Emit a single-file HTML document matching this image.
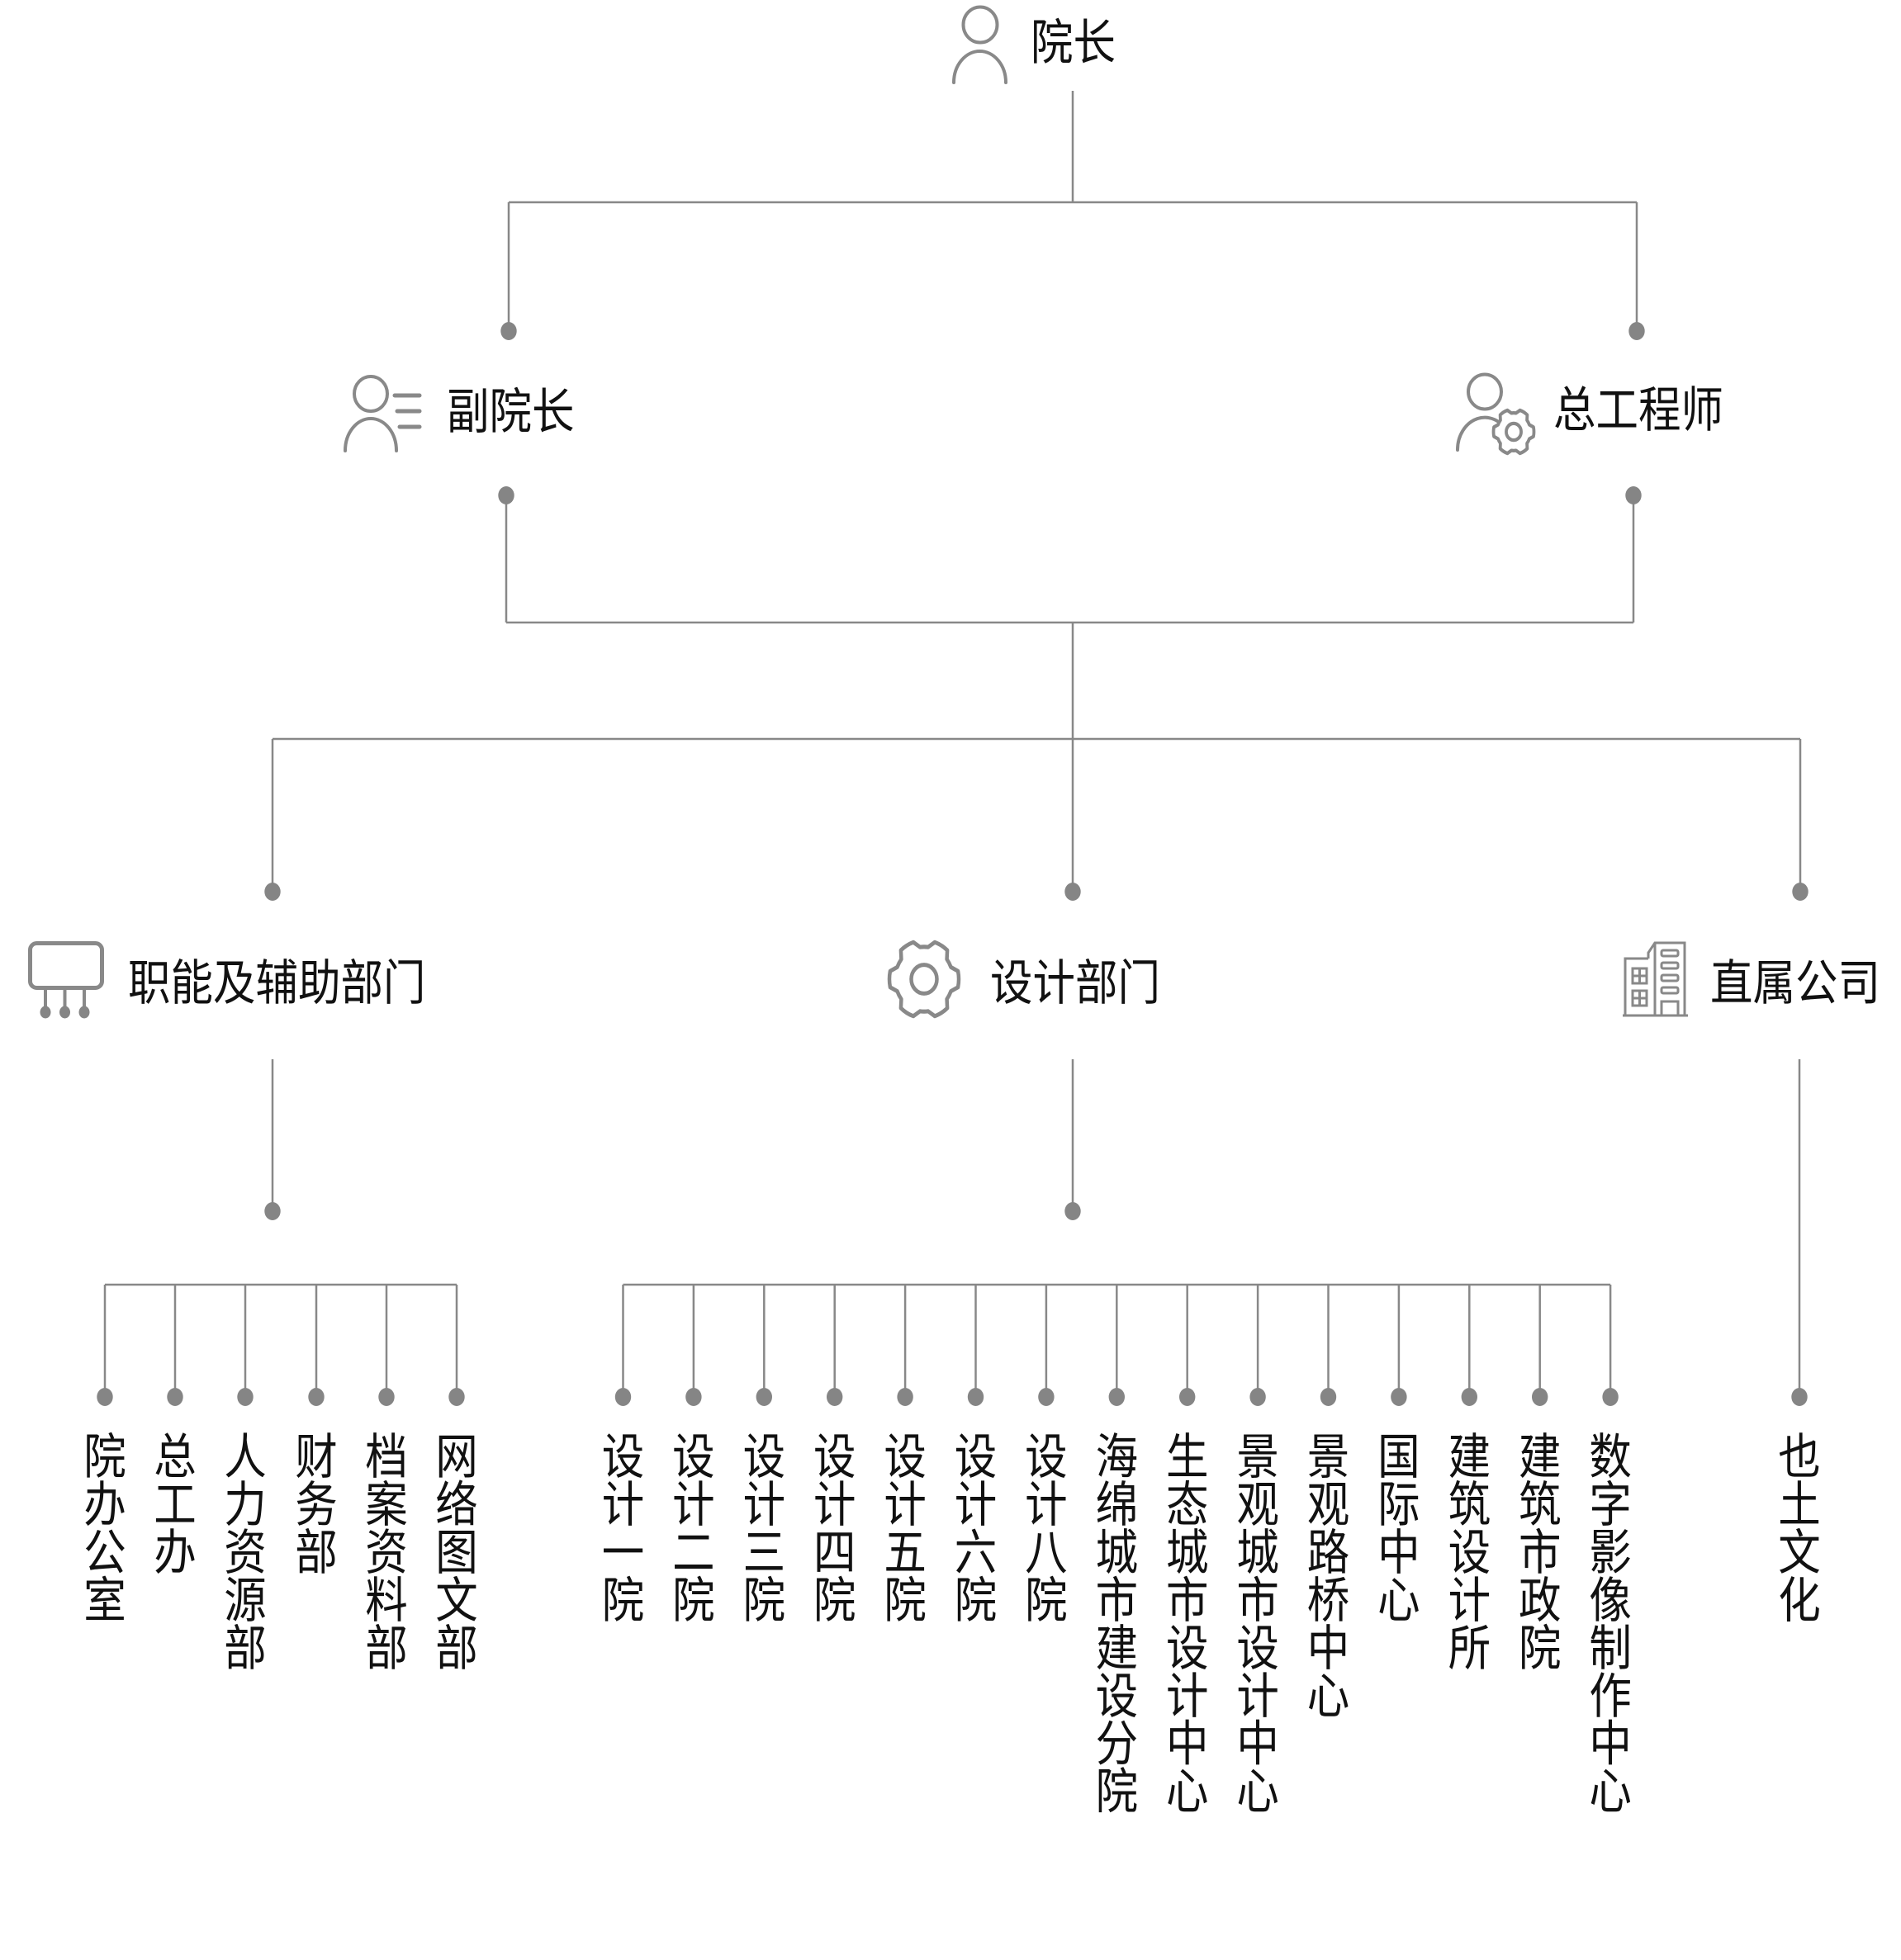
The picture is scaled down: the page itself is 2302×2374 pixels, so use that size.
<!DOCTYPE html>
<html>
<head>
<meta charset="utf-8">
<style>
  html,body{margin:0;padding:0;background:#fff;}
  svg{display:block;}
  text{font-family:"Liberation Sans","Noto Sans CJK SC","WenQuanYi Zen Hei",sans-serif;fill:#111;}
</style>
</head>
<body>
<svg width="2302" height="2374" viewBox="0 0 2302 2374" xmlns="http://www.w3.org/2000/svg">
  <defs>
    <path id="gear" d="M41.08,-8.73 A42,42 0 0 1 41.08,8.73 L32.45,13.11 A35,35 0 0 1 27.58,21.55 L28.10,31.21 A42,42 0 0 1 12.98,39.95 L4.87,34.66 A35,35 0 0 1 -4.87,34.66 L-12.98,39.95 A42,42 0 0 1 -28.10,31.21 L-27.58,21.55 A35,35 0 0 1 -32.45,13.11 L-41.08,8.73 A42,42 0 0 1 -41.08,-8.73 L-32.45,-13.11 A35,35 0 0 1 -27.58,-21.55 L-28.10,-31.21 A42,42 0 0 1 -12.98,-39.95 L-4.87,-34.66 A35,35 0 0 1 4.87,-34.66 L12.98,-39.95 A42,42 0 0 1 28.10,-31.21 L27.58,-21.55 A35,35 0 0 1 32.45,-13.11 Z"/>
  </defs>

  <!-- connectors -->
  <g stroke="#888" stroke-width="2.5" fill="none">
    <line x1="1299" y1="110" x2="1299" y2="245"/>
    <line x1="616" y1="245" x2="1982" y2="245"/>
    <line x1="616" y1="245" x2="616" y2="401"/>
    <line x1="1982" y1="245" x2="1982" y2="401"/>
    <line x1="613" y1="600" x2="613" y2="754"/>
    <line x1="1978" y1="600" x2="1978" y2="754"/>
    <line x1="613" y1="754" x2="1978" y2="754"/>
    <line x1="1299" y1="754" x2="1299" y2="1080"/>
    <line x1="330" y1="895" x2="2180" y2="895"/>
    <line x1="330" y1="895" x2="330" y2="1080"/>
    <line x1="2180" y1="895" x2="2180" y2="1080"/>
    <line x1="330" y1="1283" x2="330" y2="1467"/>
    <line x1="1299" y1="1283" x2="1299" y2="1467"/>
    <line x1="2179" y1="1283" x2="2179" y2="1692"/>
    <!-- functional bar -->
    <line x1="127" y1="1556" x2="553" y2="1556"/>
    <line x1="127" y1="1556" x2="127" y2="1692"/>
    <line x1="212" y1="1556" x2="212" y2="1692"/>
    <line x1="297" y1="1556" x2="297" y2="1692"/>
    <line x1="383" y1="1556" x2="383" y2="1692"/>
    <line x1="468" y1="1556" x2="468" y2="1692"/>
    <line x1="553" y1="1556" x2="553" y2="1692"/>
    <!-- design bar -->
    <line x1="754.5" y1="1556" x2="1950.1" y2="1556"/>
    <line x1="754.5" y1="1556" x2="754.5" y2="1692"/>
    <line x1="839.9" y1="1556" x2="839.9" y2="1692"/>
    <line x1="925.3" y1="1556" x2="925.3" y2="1692"/>
    <line x1="1010.7" y1="1556" x2="1010.7" y2="1692"/>
    <line x1="1096.1" y1="1556" x2="1096.1" y2="1692"/>
    <line x1="1181.5" y1="1556" x2="1181.5" y2="1692"/>
    <line x1="1266.9" y1="1556" x2="1266.9" y2="1692"/>
    <line x1="1352.3" y1="1556" x2="1352.3" y2="1692"/>
    <line x1="1437.7" y1="1556" x2="1437.7" y2="1692"/>
    <line x1="1523.1" y1="1556" x2="1523.1" y2="1692"/>
    <line x1="1608.5" y1="1556" x2="1608.5" y2="1692"/>
    <line x1="1693.9" y1="1556" x2="1693.9" y2="1692"/>
    <line x1="1779.3" y1="1556" x2="1779.3" y2="1692"/>
    <line x1="1864.7" y1="1556" x2="1864.7" y2="1692"/>
    <line x1="1950.1" y1="1556" x2="1950.1" y2="1692"/>
  </g>

  <!-- dots -->
  <g fill="#858585">
    <ellipse cx="616" cy="401" rx="9.7" ry="11"/>
    <ellipse cx="1982" cy="401" rx="9.7" ry="11"/>
    <ellipse cx="613" cy="600" rx="9.7" ry="11"/>
    <ellipse cx="1978" cy="600" rx="9.7" ry="11"/>
    <ellipse cx="330" cy="1080" rx="9.7" ry="11"/>
    <ellipse cx="1299" cy="1080" rx="9.7" ry="11"/>
    <ellipse cx="2180" cy="1080" rx="9.7" ry="11"/>
    <ellipse cx="330" cy="1467" rx="9.7" ry="11"/>
    <ellipse cx="1299" cy="1467" rx="9.7" ry="11"/>
    <ellipse cx="2179" cy="1692" rx="9.7" ry="11"/>
    <ellipse cx="127" cy="1692" rx="9.7" ry="11"/>
    <ellipse cx="212" cy="1692" rx="9.7" ry="11"/>
    <ellipse cx="297" cy="1692" rx="9.7" ry="11"/>
    <ellipse cx="383" cy="1692" rx="9.7" ry="11"/>
    <ellipse cx="468" cy="1692" rx="9.7" ry="11"/>
    <ellipse cx="553" cy="1692" rx="9.7" ry="11"/>
    <ellipse cx="754.5" cy="1692" rx="9.7" ry="11"/>
    <ellipse cx="839.9" cy="1692" rx="9.7" ry="11"/>
    <ellipse cx="925.3" cy="1692" rx="9.7" ry="11"/>
    <ellipse cx="1010.7" cy="1692" rx="9.7" ry="11"/>
    <ellipse cx="1096.1" cy="1692" rx="9.7" ry="11"/>
    <ellipse cx="1181.5" cy="1692" rx="9.7" ry="11"/>
    <ellipse cx="1266.9" cy="1692" rx="9.7" ry="11"/>
    <ellipse cx="1352.3" cy="1692" rx="9.7" ry="11"/>
    <ellipse cx="1437.7" cy="1692" rx="9.7" ry="11"/>
    <ellipse cx="1523.1" cy="1692" rx="9.7" ry="11"/>
    <ellipse cx="1608.5" cy="1692" rx="9.7" ry="11"/>
    <ellipse cx="1693.9" cy="1692" rx="9.7" ry="11"/>
    <ellipse cx="1779.3" cy="1692" rx="9.7" ry="11"/>
    <ellipse cx="1864.7" cy="1692" rx="9.7" ry="11"/>
    <ellipse cx="1950.1" cy="1692" rx="9.7" ry="11"/>
  </g>

  <!-- icons -->
  <g stroke="#898989" fill="none" stroke-linecap="round" stroke-linejoin="round">
    <!-- 院长 person -->
    <ellipse cx="1187" cy="30" rx="20.5" ry="21.5" stroke-width="4"/>
    <path d="M1155,100 A31.5,38 0 0 1 1218,100" stroke-width="4"/>

    <!-- 副院长 person with lines -->
    <ellipse cx="449" cy="477" rx="20" ry="21" stroke-width="4"/>
    <path d="M418,546 A31,39 0 0 1 480,546" stroke-width="4"/>
    <line x1="478" y1="479" x2="508" y2="479" stroke-width="5"/>
    <line x1="481" y1="498" x2="508" y2="498" stroke-width="5"/>
    <line x1="484" y1="517" x2="508" y2="517" stroke-width="5"/>

    <!-- 总工程师 person with gear -->
    <ellipse cx="1798" cy="474.5" rx="20" ry="21" stroke-width="4"/>
    <path d="M1765,545 A33,39 0 0 1 1826,524" stroke-width="4"/>
    <g transform="translate(1833,523) scale(0.583,0.653)">
      <use href="#gear" fill="#fff" stroke-width="6.5"/>
      <circle cx="0" cy="0" r="15.5" stroke-width="6.5"/>
    </g>

    <!-- 职能 icon -->
    <rect x="36.5" y="1142.5" width="87" height="54" rx="8" ry="8" stroke-width="5"/>
    <line x1="55" y1="1199" x2="55" y2="1222" stroke-width="4"/>
    <line x1="78.5" y1="1199" x2="78.5" y2="1222" stroke-width="4"/>
    <line x1="102" y1="1199" x2="102" y2="1222" stroke-width="4"/>

    <!-- 设计部门 gear -->
    <g transform="translate(1119,1186) scale(1,1.12)">
      <use href="#gear" stroke-width="4.5"/>
      <circle cx="0" cy="0" r="15.5" stroke-width="4.5"/>
    </g>

    <!-- 直属公司 building -->
    <g stroke-width="3" stroke-linecap="butt" stroke-linejoin="miter">
      <line x1="1965" y1="1230" x2="2044" y2="1230"/>
      <path d="M1968,1230 L1968,1161 L1996,1161"/>
      <path d="M1996,1161 L1996,1154 L2004,1142 L2040,1142 L2040,1230"/>
      <line x1="2004" y1="1142" x2="2004" y2="1230"/>
      <rect x="1977" y="1173" width="17" height="18"/>
      <line x1="1985.5" y1="1173" x2="1985.5" y2="1191"/>
      <line x1="1977" y1="1182" x2="1994" y2="1182"/>
      <rect x="1977" y="1200" width="17" height="18"/>
      <line x1="1985.5" y1="1200" x2="1985.5" y2="1218"/>
      <line x1="1977" y1="1209" x2="1994" y2="1209"/>
      <rect x="2012" y="1151" width="20" height="7" rx="2"/>
      <rect x="2012" y="1166" width="20" height="7" rx="2"/>
      <rect x="2012" y="1181" width="20" height="7" rx="2"/>
      <rect x="2012" y="1196" width="20" height="7" rx="2"/>
      <path d="M2012,1230 L2012,1213 L2032,1213 L2032,1230"/>
    </g>
  </g>
  <g fill="#858585">
    <ellipse cx="55" cy="1226" rx="6.5" ry="7.5"/>
    <ellipse cx="78.5" cy="1226" rx="6.5" ry="7.5"/>
    <ellipse cx="102" cy="1226" rx="6.5" ry="7.5"/>
  </g>

  <!-- horizontal labels -->
  <g font-size="51.5">
    <text transform="translate(1248,72) scale(1,1.15)">院长</text>
    <text transform="translate(541,519) scale(1,1.15)">副院长</text>
    <text transform="translate(1881,517) scale(1,1.15)">总工程师</text>
    <text transform="translate(155,1211) scale(1,1.15)">职能及辅助部门</text>
    <text transform="translate(1199,1211) scale(1,1.15)">设计部门</text>
    <text transform="translate(2071,1211) scale(1,1.15)">直属公司</text>
  </g>

  <!-- vertical labels -->
  <g font-size="51.5" text-anchor="middle">
    <text transform="translate(127,1785) scale(1,1.15)"><tspan x="0" y="0">院</tspan><tspan x="0" y="50.4">办</tspan><tspan x="0" y="100.8">公</tspan><tspan x="0" y="151.2">室</tspan></text>
    <text transform="translate(212,1785) scale(1,1.15)"><tspan x="0" y="0">总</tspan><tspan x="0" y="50.4">工</tspan><tspan x="0" y="100.8">办</tspan></text>
    <text transform="translate(297,1785) scale(1,1.15)"><tspan x="0" y="0">人</tspan><tspan x="0" y="50.4">力</tspan><tspan x="0" y="100.8">资</tspan><tspan x="0" y="151.2">源</tspan><tspan x="0" y="201.6">部</tspan></text>
    <text transform="translate(383,1785) scale(1,1.15)"><tspan x="0" y="0">财</tspan><tspan x="0" y="50.4">务</tspan><tspan x="0" y="100.8">部</tspan></text>
    <text transform="translate(468,1785) scale(1,1.15)"><tspan x="0" y="0">档</tspan><tspan x="0" y="50.4">案</tspan><tspan x="0" y="100.8">资</tspan><tspan x="0" y="151.2">料</tspan><tspan x="0" y="201.6">部</tspan></text>
    <text transform="translate(553,1785) scale(1,1.15)"><tspan x="0" y="0">网</tspan><tspan x="0" y="50.4">络</tspan><tspan x="0" y="100.8">图</tspan><tspan x="0" y="151.2">文</tspan><tspan x="0" y="201.6">部</tspan></text>

    <text transform="translate(754.5,1785) scale(1,1.15)"><tspan x="0" y="0">设</tspan><tspan x="0" y="50.4">计</tspan><tspan x="0" y="100.8">一</tspan><tspan x="0" y="151.2">院</tspan></text>
    <text transform="translate(839.9,1785) scale(1,1.15)"><tspan x="0" y="0">设</tspan><tspan x="0" y="50.4">计</tspan><tspan x="0" y="100.8">二</tspan><tspan x="0" y="151.2">院</tspan></text>
    <text transform="translate(925.3,1785) scale(1,1.15)"><tspan x="0" y="0">设</tspan><tspan x="0" y="50.4">计</tspan><tspan x="0" y="100.8">三</tspan><tspan x="0" y="151.2">院</tspan></text>
    <text transform="translate(1010.7,1785) scale(1,1.15)"><tspan x="0" y="0">设</tspan><tspan x="0" y="50.4">计</tspan><tspan x="0" y="100.8">四</tspan><tspan x="0" y="151.2">院</tspan></text>
    <text transform="translate(1096.1,1785) scale(1,1.15)"><tspan x="0" y="0">设</tspan><tspan x="0" y="50.4">计</tspan><tspan x="0" y="100.8">五</tspan><tspan x="0" y="151.2">院</tspan></text>
    <text transform="translate(1181.5,1785) scale(1,1.15)"><tspan x="0" y="0">设</tspan><tspan x="0" y="50.4">计</tspan><tspan x="0" y="100.8">六</tspan><tspan x="0" y="151.2">院</tspan></text>
    <text transform="translate(1266.9,1785) scale(1,1.15)"><tspan x="0" y="0">设</tspan><tspan x="0" y="50.4">计</tspan><tspan x="0" y="100.8">八</tspan><tspan x="0" y="151.2">院</tspan></text>
    <text transform="translate(1352.3,1785) scale(1,1.15)"><tspan x="0" y="0">海</tspan><tspan x="0" y="50.4">绵</tspan><tspan x="0" y="100.8">城</tspan><tspan x="0" y="151.2">市</tspan><tspan x="0" y="201.6">建</tspan><tspan x="0" y="252">设</tspan><tspan x="0" y="302.4">分</tspan><tspan x="0" y="352.8">院</tspan></text>
    <text transform="translate(1437.7,1785) scale(1,1.15)"><tspan x="0" y="0">生</tspan><tspan x="0" y="50.4">态</tspan><tspan x="0" y="100.8">城</tspan><tspan x="0" y="151.2">市</tspan><tspan x="0" y="201.6">设</tspan><tspan x="0" y="252">计</tspan><tspan x="0" y="302.4">中</tspan><tspan x="0" y="352.8">心</tspan></text>
    <text transform="translate(1523.1,1785) scale(1,1.15)"><tspan x="0" y="0">景</tspan><tspan x="0" y="50.4">观</tspan><tspan x="0" y="100.8">城</tspan><tspan x="0" y="151.2">市</tspan><tspan x="0" y="201.6">设</tspan><tspan x="0" y="252">计</tspan><tspan x="0" y="302.4">中</tspan><tspan x="0" y="352.8">心</tspan></text>
    <text transform="translate(1608.5,1785) scale(1,1.15)"><tspan x="0" y="0">景</tspan><tspan x="0" y="50.4">观</tspan><tspan x="0" y="100.8">路</tspan><tspan x="0" y="151.2">桥</tspan><tspan x="0" y="201.6">中</tspan><tspan x="0" y="252">心</tspan></text>
    <text transform="translate(1693.9,1785) scale(1,1.15)"><tspan x="0" y="0">国</tspan><tspan x="0" y="50.4">际</tspan><tspan x="0" y="100.8">中</tspan><tspan x="0" y="151.2">心</tspan></text>
    <text transform="translate(1779.3,1785) scale(1,1.15)"><tspan x="0" y="0">建</tspan><tspan x="0" y="50.4">筑</tspan><tspan x="0" y="100.8">设</tspan><tspan x="0" y="151.2">计</tspan><tspan x="0" y="201.6">所</tspan></text>
    <text transform="translate(1864.7,1785) scale(1,1.15)"><tspan x="0" y="0">建</tspan><tspan x="0" y="50.4">筑</tspan><tspan x="0" y="100.8">市</tspan><tspan x="0" y="151.2">政</tspan><tspan x="0" y="201.6">院</tspan></text>
    <text transform="translate(1950.1,1785) scale(1,1.15)"><tspan x="0" y="0">数</tspan><tspan x="0" y="50.4">字</tspan><tspan x="0" y="100.8">影</tspan><tspan x="0" y="151.2">像</tspan><tspan x="0" y="201.6">制</tspan><tspan x="0" y="252">作</tspan><tspan x="0" y="302.4">中</tspan><tspan x="0" y="352.8">心</tspan></text>

    <text transform="translate(2179,1785) scale(1,1.15)"><tspan x="0" y="0">也</tspan><tspan x="0" y="50.4">土</tspan><tspan x="0" y="100.8">文</tspan><tspan x="0" y="151.2">化</tspan></text>
  </g>
</svg>
</body>
</html>
